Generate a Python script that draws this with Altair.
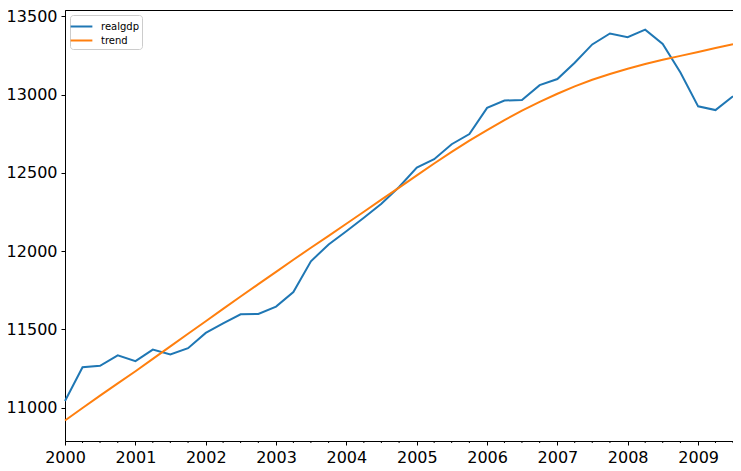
import altair as alt
import pandas as pd

quarters = [f"{y}-{m:02d}-01" for y in range(2000, 2010) for m in (1, 4, 7, 10)][:39]

realgdp = [11043.0, 11258.5, 11267.9, 11334.5,
           11297.2, 11371.3, 11340.1, 11380.1,
           11477.9, 11538.8, 11596.4, 11598.8,
           11645.8, 11738.7, 11935.5, 12042.8,
           12127.6, 12213.8, 12303.5, 12410.3,
           12534.1, 12587.5, 12683.2, 12748.7,
           12915.9, 12962.5, 12965.9, 13060.7,
           13099.9, 13204.0, 13321.1, 13391.2,
           13366.9, 13415.3, 13324.6, 13141.9,
           12925.4, 12901.5, 12990.3]

trend = [10918, 10998, 11077, 11155,
         11233, 11312, 11392, 11472,
         11552, 11631, 11710, 11789,
         11868, 11945, 12022, 12098,
         12175, 12252, 12329, 12406,
         12484, 12560, 12634, 12706,
         12774, 12838, 12898, 12954,
         13006, 13053, 13095, 13132,
         13166, 13196, 13223, 13248,
         13272, 13298, 13323]

series_names = ["realgdp", "trend"]
series_colors = ["#1f77b4", "#ff7f0e"]
year_ticks = [f"{y}-01-01" for y in range(2000, 2010)]
y_ticks = [11000, 11500, 12000, 12500, 13000, 13500]

df = pd.DataFrame({
    "date": quarters * 2,
    "value": realgdp + trend,
    "series": ["realgdp"] * len(quarters) + ["trend"] * len(quarters),
})
minor_df = pd.DataFrame({"date": [q for q in quarters if not q.endswith("-01-01")]})

W, H = 668, 431
FONT = "DejaVu Sans"

x_scale = alt.Scale(domain=["2000-01-01", "2009-07-01"])

lines = alt.Chart(df).mark_line(strokeWidth=2).encode(
    x=alt.X("date:T", scale=x_scale, title=None,
            axis=alt.Axis(values=year_ticks, format="%Y", labelFlush=False,
                          tickSize=4, labelFontSize=16, labelFont=FONT,
                          labelColor="black", tickColor="black", domainColor="black",
                          grid=False, labelPadding=4, labelAngle=0)),
    y=alt.Y("value:Q", scale=alt.Scale(domain=[10787, 13541], nice=False, zero=False),
            title=None,
            axis=alt.Axis(values=y_ticks, format="d", tickSize=4, labelFontSize=16,
                          labelFont=FONT, labelColor="black", tickColor="black",
                          domainColor="black", grid=False, labelPadding=4)),
    color=alt.Color("series:N", scale=alt.Scale(domain=series_names, range=series_colors),
                    legend=alt.Legend(title=None, orient="top-left", offset=5,
                                      symbolType="M-1.45,0L1.45,0", symbolStrokeWidth=2,
                                      symbolSize=225, labelFontSize=10, labelFont=FONT,
                                      labelColor="black", strokeColor="#cccccc",
                                      fillColor="white", cornerRadius=3, padding=3,
                                      rowPadding=0, labelOffset=11)),
)

minor = alt.Chart(minor_df).mark_rule(color="black", strokeWidth=1).encode(
    x=alt.X("date:T", scale=x_scale),
    y=alt.value(H),
    y2=alt.value(H + 2),
)

chart = alt.layer(lines, minor).properties(
    width=W, height=H,
    autosize=alt.AutoSizeParams(type="none"),
    padding={"left": 57, "top": 2, "right": 0, "bottom": 26},
).configure_view(stroke="black", strokeWidth=1)

chart.save("out.html", embed_options={"renderer": "svg", "actions": False})
